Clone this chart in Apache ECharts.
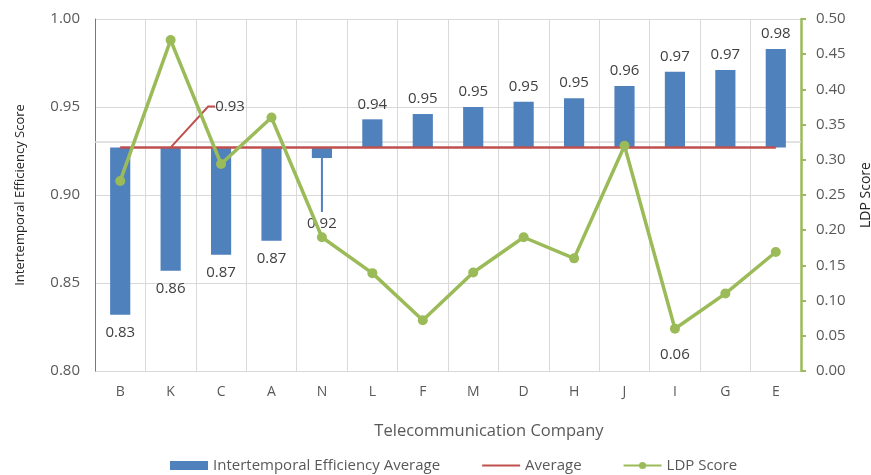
<!DOCTYPE html>
<html>
<head>
<meta charset="utf-8">
<script src="https://cdn.jsdelivr.net/npm/echarts@6/dist/echarts.min.js"></script>
<style>
  html, body { margin: 0; padding: 0; background: #fff; }
  #chart { width: 871px; height: 475px; }
</style>
</head>
<body>
<div id="chart"></div>
<script type="text/javascript">
// companies, sorted by efficiency
var companies = ['B', 'K', 'C', 'A', 'N', 'L', 'F', 'M', 'D', 'H', 'J', 'I', 'G', 'E'];
// intertemporal efficiency average (left axis)
var efficiency = [0.832, 0.857, 0.866, 0.874, 0.921, 0.943, 0.946, 0.950, 0.953, 0.955, 0.962, 0.970, 0.971, 0.983];
// overall average, drawn as a flat line
var average = [0.927, 0.927, 0.927, 0.927, 0.927, 0.927, 0.927, 0.927, 0.927, 0.927, 0.927, 0.927, 0.927, 0.927];
// LDP score (right axis)
var ldp = [0.270, 0.470, 0.294, 0.360, 0.190, 0.139, 0.072, 0.140, 0.190, 0.160, 0.320, 0.060, 0.110, 0.169];
var leftTicks = [0.80, 0.85, 0.90, 0.95, 1.00];
var rightTicks = [0.00, 0.05, 0.10, 0.15, 0.20, 0.25, 0.30, 0.35, 0.40, 0.45, 0.50];

var FONT = 'Open Sans';
var TXT = '#595959';
var BLUE = '#4f81bd', RED = '#c0504d', GREEN = '#9bbb59';
var avgBase = average[0];

// bars hang from the average, like excel's crossing axis
function renderBar(params, api) {
  var i = api.value(0);
  var v = api.value(1);
  var p0 = api.coord([i, avgBase]);
  var p1 = api.coord([i, v]);
  var w = api.size([1, 0])[0] * 0.4;
  var top = Math.min(p0[1], p1[1]);
  var h = Math.abs(p1[1] - p0[1]);
  var below = v < avgBase;
  var children = [{
    type: 'rect',
    shape: { x: p0[0] - w / 2, y: top, width: w, height: h },
    style: { fill: BLUE }
  }];
  var ly = below ? p1[1] + 18 : p1[1] - 15;
  if (companies[i] === 'N') {
    // pulled-out label with a leader
    ly = p1[1] + 66;
    children.push({
      type: 'line',
      shape: { x1: p1[0], y1: p1[1], x2: p1[0], y2: ly - 12 },
      style: { stroke: BLUE, lineWidth: 2 }
    });
  }
  children.push({
    type: 'text',
    style: {
      x: p1[0], y: ly, text: v.toFixed(2),
      align: 'center', verticalAlign: 'middle',
      fill: '#404040', font: '15px "' + FONT + '"'
    }
  });
  return { type: 'group', children: children };
}

var chart = echarts.init(document.getElementById('chart'));
var option = {
  animation: false,
  grid: { left: 95, right: 70, top: 19, bottom: 104, outerBoundsMode: 'none' },
  legend: {
    left: 165, top: 453,
    itemWidth: 38, itemHeight: 9, itemGap: 41,
    textStyle: { fontFamily: FONT, fontSize: 15, color: TXT },
    data: [
      { name: 'Intertemporal Efficiency Average', icon: 'rect' },
      { name: 'Average', itemStyle: { opacity: 0 } },
      { name: 'LDP Score' }
    ]
  },
  xAxis: {
    type: 'category',
    data: companies,
    name: 'Telecommunication Company',
    nameLocation: 'middle',
    nameGap: 52,
    nameTextStyle: { fontFamily: FONT, fontSize: 16.5, color: TXT, padding: [0, 0, 0, 82] },
    axisLine: { show: false },
    axisTick: { show: false },
    axisLabel: { fontFamily: FONT, fontSize: 14, color: TXT, margin: 14 },
    splitLine: { show: true, lineStyle: { color: '#d9d9d9' } }
  },
  yAxis: [{
    type: 'value',
    min: leftTicks[0], max: leftTicks[leftTicks.length - 1], interval: 0.05,
    name: 'Intertemporal Efficiency Score',
    nameLocation: 'middle', nameRotate: 90, nameGap: 68,
    nameTextStyle: { fontFamily: FONT, fontSize: 13, color: '#262626' },
    axisLine: { show: true, lineStyle: { color: BLUE, width: 1 } },
    axisTick: { show: false },
    axisLabel: { fontFamily: FONT, fontSize: 15, color: TXT, margin: 15,
      formatter: function (v) { return v.toFixed(2); } },
    splitLine: { show: true, lineStyle: { color: '#d9d9d9' } }
  }, {
    type: 'value',
    position: 'right',
    min: rightTicks[0], max: rightTicks[rightTicks.length - 1], interval: 0.05,
    name: 'LDP Score',
    nameLocation: 'middle', nameRotate: 90, nameGap: 58,
    nameTextStyle: { fontFamily: FONT, fontSize: 14, color: '#262626', verticalAlign: 'top' },
    axisLine: { show: true, lineStyle: { color: GREEN, width: 2.5 } },
    axisTick: { show: true, inside: false, length: 5, lineStyle: { color: GREEN, width: 2 } },
    axisLabel: { fontFamily: FONT, fontSize: 15, color: TXT, margin: 15,
      formatter: function (v) { return v.toFixed(2); } },
    splitLine: { show: false }
  }],
  series: [{
    // horizontal axis crossing line at the average, under everything
    type: 'line',
    data: [],
    silent: true,
    z: 1,
    markLine: {
      silent: true, symbol: 'none', label: { show: false }, z: 1,
      lineStyle: { color: '#d9d9d9', type: 'solid', width: 1.5 },
      data: [{ yAxis: avgBase }]
    }
  }, {
    name: 'Intertemporal Efficiency Average',
    type: 'custom',
    renderItem: renderBar,
    itemStyle: { color: BLUE },
    encode: { x: 0, y: 1 },
    data: efficiency.map(function (v, i) { return [i, v]; }),
    z: 2
  }, {
    name: 'Average',
    type: 'line',
    yAxisIndex: 0,
    symbol: 'circle', symbolSize: 1,
    itemStyle: { color: RED },
    lineStyle: { color: RED, width: 2.5 },
    data: average.map(function (v, i) {
      if (companies[i] !== 'K') return v;
      return { value: v, label: { show: true } };
    }),
    label: {
      show: false, position: 'right', distance: 5,
      fontFamily: FONT, fontSize: 15, color: '#404040',
      formatter: function (p) { return p.value.toFixed(2); }
    },
    labelLine: { show: true, length2: 7, lineStyle: { color: RED, width: 2 } },
    labelLayout: { dx: 39, dy: -41 },
    z: 3
  }, {
    name: 'LDP Score',
    type: 'line',
    yAxisIndex: 1,
    symbol: 'circle', symbolSize: 10,
    itemStyle: { color: GREEN },
    lineStyle: { color: GREEN, width: 3.5 },
    data: ldp.map(function (v, i) {
      if (companies[i] !== 'I') return v;
      return { value: v, label: { show: true } };
    }),
    label: {
      show: false, position: 'bottom', distance: 13,
      fontFamily: FONT, fontSize: 15, color: '#404040',
      formatter: function (p) { return p.value.toFixed(2); }
    },
    z: 4
  }]
};
chart.setOption(option);
</script>
</body>
</html>
